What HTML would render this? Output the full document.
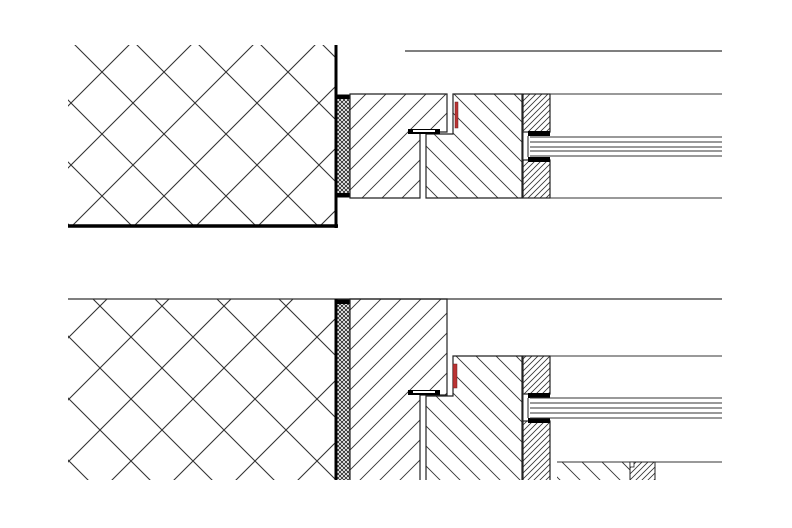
<!DOCTYPE html>
<html><head><style>html,body{margin:0;padding:0;background:#fff}svg{display:block}</style></head>
<body>
<svg width="792" height="528" viewBox="0 0 792 528" xmlns="http://www.w3.org/2000/svg">
<defs>
<pattern id="dT" patternUnits="userSpaceOnUse" x="40" y="10" width="62" height="62">
<path d="M0 0L62 62M62 0L0 62" stroke="#333" stroke-width="1.1" fill="none"/></pattern>
<pattern id="dB" patternUnits="userSpaceOnUse" x="7" y="27" width="62" height="62">
<path d="M0 0L62 62M62 0L0 62" stroke="#333" stroke-width="1.1" fill="none"/></pattern>
<pattern id="h1" patternUnits="userSpaceOnUse" width="20" height="20">
<path d="M0 20L20 0M-4 4L4 -4M16 24L24 16" stroke="#333" stroke-width="0.9"/></pattern>
<pattern id="h2" patternUnits="userSpaceOnUse" width="20" height="20">
<path d="M0 0L20 20M-4 16L4 24M16 -4L24 4" stroke="#333" stroke-width="0.9"/></pattern>
<pattern id="h3" patternUnits="userSpaceOnUse" width="6" height="6">
<path d="M0 6L6 0M-2 2L2 -2M4 8L8 4" stroke="#333" stroke-width="0.8"/></pattern>
<pattern id="x" patternUnits="userSpaceOnUse" width="4" height="4">
<rect width="4" height="4" fill="#fff"/><path d="M0 0L4 4M4 0L0 4" stroke="#222" stroke-width="0.8"/></pattern>
</defs>

<!-- TOP -->
<rect x="68" y="45" width="268" height="181" fill="url(#dT)"/>
<line x1="68" y1="226" x2="338" y2="226" stroke="#000" stroke-width="3.5"/>
<line x1="336" y1="45" x2="336" y2="228" stroke="#000" stroke-width="3"/>
<rect x="337" y="95" width="13" height="102" fill="url(#x)" stroke="#000" stroke-width="1"/>
<rect x="337" y="95" width="13" height="4" fill="#000"/>
<rect x="337" y="193" width="13" height="4" fill="#000"/>
<line x1="405" y1="51" x2="722" y2="51" stroke="#333" stroke-width="1.2"/>
<path d="M350 94H447V132H420V198H350Z" fill="url(#h1)" stroke="#222" stroke-width="1.2"/>
<path d="M426 198V134H453V94H522V198Z" fill="url(#h2)" stroke="#222" stroke-width="1.2"/>
<rect x="455" y="102" width="3" height="26" fill="#b33" stroke="#622" stroke-width="0.5"/>
<rect x="408" y="129" width="32" height="5" fill="#000"/>
<rect x="413" y="130" width="22" height="2" fill="#fff"/>
<rect x="523" y="94" width="27" height="38" fill="url(#h3)" stroke="#222" stroke-width="1.2"/>
<rect x="523" y="160" width="27" height="38" fill="url(#h3)" stroke="#222" stroke-width="1.2"/>
<path d="M523 132V160M528 136V157" stroke="#222" stroke-width="1"/>
<rect x="528" y="131" width="22" height="5" fill="#000"/>
<rect x="528" y="157" width="22" height="5" fill="#000"/>
<g stroke="#333" stroke-width="1"><line x1="530" y1="137" x2="722" y2="137"/><line x1="530" y1="142" x2="722" y2="142"/><line x1="530" y1="147" x2="722" y2="147"/><line x1="530" y1="151" x2="722" y2="151"/><line x1="530" y1="156" x2="722" y2="156"/>
<line x1="550" y1="94" x2="722" y2="94"/><line x1="550" y1="198" x2="722" y2="198"/></g>

<!-- BOTTOM -->
<rect x="68" y="299" width="268" height="181" fill="url(#dB)"/>
<line x1="68" y1="299" x2="722" y2="299" stroke="#333" stroke-width="1.2"/>
<line x1="336" y1="299" x2="336" y2="482" stroke="#000" stroke-width="3"/>
<rect x="337" y="300" width="13" height="182" fill="url(#x)" stroke="#000" stroke-width="1"/>
<rect x="337" y="300" width="13" height="4" fill="#000"/>
<path d="M350 299H447V395H420V482H350Z" fill="url(#h1)" stroke="#222" stroke-width="1.2"/>
<path d="M426 482V396H453V356H522V482Z" fill="url(#h2)" stroke="#222" stroke-width="1.2"/>
<rect x="453" y="364" width="4" height="24" fill="#b33" stroke="#622" stroke-width="0.5"/>
<rect x="408" y="390" width="32" height="5" fill="#000"/>
<rect x="413" y="391" width="22" height="2" fill="#fff"/>
<rect x="523" y="356" width="27" height="38" fill="url(#h3)" stroke="#222" stroke-width="1.2"/>
<rect x="523" y="421" width="27" height="61" fill="url(#h3)" stroke="#222" stroke-width="1.2"/>
<path d="M523 394V421M528 398V418" stroke="#222" stroke-width="1"/>
<rect x="528" y="393" width="22" height="5" fill="#000"/>
<rect x="528" y="418" width="22" height="5" fill="#000"/>
<g stroke="#333" stroke-width="1"><line x1="530" y1="398" x2="722" y2="398"/><line x1="530" y1="403" x2="722" y2="403"/><line x1="530" y1="408" x2="722" y2="408"/><line x1="530" y1="413" x2="722" y2="413"/><line x1="530" y1="418" x2="722" y2="418"/>
<line x1="550" y1="356" x2="722" y2="356"/><line x1="557" y1="462" x2="722" y2="462"/></g>
<rect x="557" y="462" width="73" height="20" fill="url(#h2)"/>
<rect x="630" y="462" width="25" height="20" fill="url(#h3)" stroke="#222" stroke-width="1"/>
<rect x="630" y="462" width="4" height="5" fill="#fff" stroke="#222" stroke-width="0.8"/>
<rect x="0" y="480" width="792" height="48" fill="#fff"/>
</svg>
</body></html>
